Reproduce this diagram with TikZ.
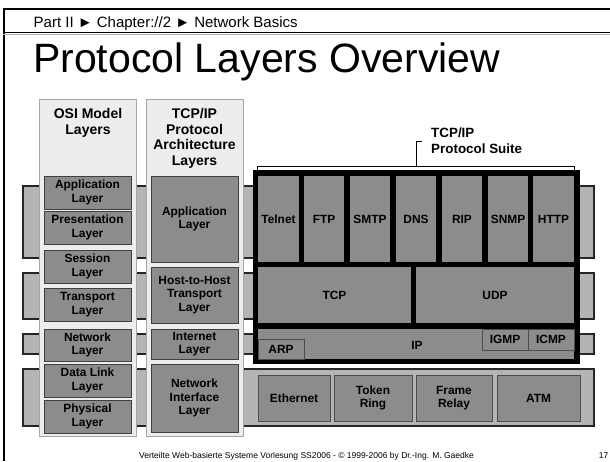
\documentclass[tikz,border=0pt]{standalone}
\usepackage{fontspec}
\setmainfont{Liberation Sans}
\definecolor{bandc}{HTML}{B4B4B4}
\definecolor{boxc}{HTML}{8C8C8C}
\definecolor{colc}{HTML}{EDEDED}
\newcommand\lblfont{\fontsize{11.9}{13.6}\selectfont\bfseries}
\newcommand\hdrfont{\fontsize{14}{15.7}\selectfont\bfseries}
\newcommand\lbox[7]{\node[#1, minimum width={(#5-#3)*1pt}, minimum height={(#6-#4)*1pt}] (#2) at ({(#3+#5)/2},{(#4+#6)/2}) {#7};}
\tikzset{
  bandbox/.style={draw=black!85, line width=1.1pt, fill=bandc, inner sep=0pt},
  colbox/.style={draw=black!35, line width=0.6pt, fill=colc, inner sep=0pt},
  layerbox/.style={draw=black!75, line width=0.9pt, fill=boxc, align=center, inner sep=0pt, font=\lblfont},
  cellbox/.style={fill=boxc, inner sep=0pt, align=center, font=\lblfont},
  thinbox/.style={draw=black!70, line width=0.7pt, fill=boxc, inner sep=0pt, align=center, font=\lblfont},
  suitebox/.style={fill=black, inner sep=0pt},
  hdr/.style={align=center, font=\hdrfont, inner sep=0pt},
  plain/.style={inner sep=0pt},
}
\begin{document}
\begin{tikzpicture}[x=1pt,y=-1pt]
\useasboundingbox (0,0) rectangle (610,461);
\clip (0,0) rectangle (610,461);
\fill[white] (0,0) rectangle (610,461);
% frame
\draw[line width=2.2pt] (3,9) -- (610,9);
\draw[line width=2pt] (4,8) -- (4,461);
\draw[line width=1.1pt] (3,32.5) -- (610,32.5);
\draw[line width=0.6pt, black!30] (3,34) -- (610,34);
% header texts
\node[plain, anchor=base west, font=\fontsize{15}{16}\selectfont] (crumb) at (33.5,27) {Part II ► Chapter://2 ► Network Basics};
\node[plain, anchor=base west, font=\fontsize{41}{45}\selectfont] (title) at (33,72) {Protocol Layers Overview};
% bands
\lbox{bandbox}{band1}{23}{186}{594}{258}{}
\lbox{bandbox}{band2}{23}{273}{594}{319}{}
\lbox{bandbox}{band3}{23}{334}{594}{354}{}
\lbox{bandbox}{band4}{23}{369}{594}{426}{}
% columns
\lbox{colbox}{osicol}{39}{99}{136}{436}{}
\lbox{colbox}{tcpcol}{146}{99}{243}{436}{}
\node[hdr, anchor=north] (osihdr) at (88,108) {OSI Model\\Layers};
\node[hdr, anchor=north] (tcphdr) at (194.5,108) {TCP/IP\\Protocol\\Architecture\\Layers};
% OSI layers
\lbox{layerbox}{osiapp}{44}{176}{131}{209}{Application\\Layer}
\lbox{layerbox}{osipres}{44}{211}{131}{244}{Presentation\\Layer}
\lbox{layerbox}{osisess}{44}{250}{131}{283}{Session\\Layer}
\lbox{layerbox}{ositrans}{44}{288}{131}{321}{Transport\\Layer}
\lbox{layerbox}{osinet}{44}{329}{131}{361}{Network\\Layer}
\lbox{layerbox}{osidl}{44}{364}{131}{397}{Data Link\\Layer}
\lbox{layerbox}{osiphy}{44}{400}{131}{433}{Physical\\Layer}
% TCP/IP architecture layers
\lbox{layerbox}{tapp}{151}{176}{238}{262}{Application\\Layer}
\lbox{layerbox}{thost}{151}{267}{238}{323}{Host-to-Host\\Transport\\Layer}
\lbox{layerbox}{tinet}{151}{329}{238}{359}{Internet\\Layer}
\lbox{layerbox}{tnif}{151}{364}{238}{432}{Network\\Interface\\Layer}
% protocol suite
\lbox{suitebox}{suite}{253}{170}{580}{364}{}
\lbox{cellbox}{telnet}{258}{176}{299}{262}{Telnet}
\lbox{cellbox}{ftp}{304}{176}{344}{262}{FTP}
\lbox{cellbox}{smtp}{350}{176}{390}{262}{SMTP}
\lbox{cellbox}{dns}{396}{176}{436}{262}{DNS}
\lbox{cellbox}{rip}{442}{176}{482}{262}{RIP}
\lbox{cellbox}{snmp}{488}{176}{528}{262}{SNMP}
\lbox{cellbox}{http}{533}{176}{574}{262}{HTTP}
\lbox{cellbox}{tcp}{258}{267}{411}{323}{TCP}
\lbox{cellbox}{udp}{416}{267}{574}{323}{UDP}
\lbox{cellbox}{ip}{258}{329}{574}{359}{}
\node[plain, font=\lblfont] (iplbl) at (417,345) {IP};
\lbox{thinbox}{arp}{258}{339}{304}{359}{ARP}
\lbox{thinbox}{igmp}{482}{329}{528}{350}{IGMP}
\lbox{thinbox}{icmp}{528}{329}{574}{350}{ICMP}
% network access
\lbox{thinbox}{eth}{258}{375}{330}{421}{Ethernet}
\lbox{thinbox}{token}{334}{375}{412}{421}{Token\\Ring}
\lbox{thinbox}{frame}{416}{375}{492}{421}{Frame\\Relay}
\lbox{thinbox}{atm}{497}{375}{580}{421}{ATM}
% bracket
\coordinate (bl) at (257,170);
\coordinate (br) at (574,170);
\coordinate (bm) at (416,166);
\draw[line width=0.9pt] (bl) -- ++(0,-4) -- ++(317,0) -- (br);
\node[plain, align=left, anchor=west, font=\fontsize{13.4}{15.8}\selectfont\bfseries] (suitelbl) at (431,141) {TCP/IP\\Protocol Suite};
\draw[line width=0.9pt] (bm) |- ([xshift=-9pt]suitelbl.west);
% footer
\node[plain, anchor=base, font=\fontsize{8.5}{10}\selectfont] (footer) at (306.5,458.3) {Verteilte Web-basierte Systeme Vorlesung SS2006 - © 1999-2006 by Dr.-Ing. M. Gaedke};
\node[plain, anchor=base east, font=\fontsize{8.5}{10}\selectfont] (pagenum) at (608.5,458.3) {17};
\end{tikzpicture}
\end{document}
